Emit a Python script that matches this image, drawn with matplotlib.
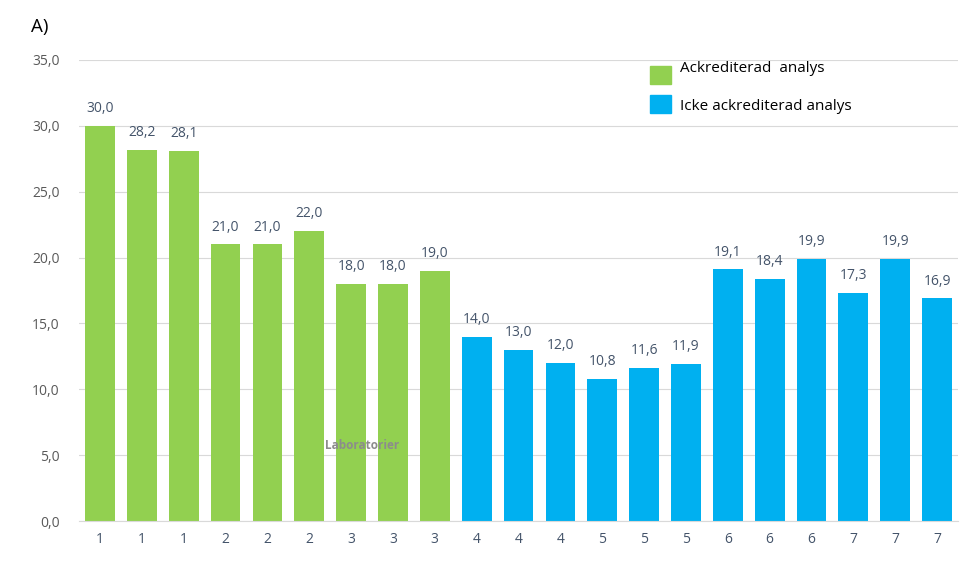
import matplotlib
matplotlib.use("Agg")
import matplotlib.pyplot as plt
from matplotlib.patches import Rectangle

plt.rcParams['font.family'] = ['Open Sans', 'DejaVu Sans']

labs = ['1', '1', '1', '2', '2', '2', '3', '3', '3', '4', '4', '4', '5', '5', '5', '6', '6', '6', '7', '7', '7']
values = [30.0, 28.2, 28.1, 21.0, 21.0, 22.0, 18.0, 18.0, 19.0,
          14.0, 13.0, 12.0, 10.8, 11.6, 11.9, 19.1, 18.4, 19.9, 17.3, 19.9, 16.9]
accredited = [True] * 9 + [False] * 12
yticks = [0, 5, 10, 15, 20, 25, 30, 35]

GREEN = '#92D050'
BLUE = '#00B0F0'

fig = plt.figure(figsize=(9.71, 5.68), dpi=100)
ax = fig.add_axes([0.0814, 0.0827, 0.9052, 0.8117])

x = list(range(len(values)))
colors = [GREEN if a else BLUE for a in accredited]
ax.bar(x, values, width=0.71, color=colors, zorder=2)
for xi, v in zip(x, values):
    ax.text(xi, v + 0.75, f"{v:.1f}".replace('.', ','), ha='center', va='bottom',
            fontsize=10, color='#44546A')

ax.set_xlim(-0.5, len(values) - 0.5)
ax.set_ylim(0, 35)
ax.set_yticks(yticks)
ax.set_yticklabels([f"{t:.1f}".replace('.', ',') for t in yticks], color='#595959', fontsize=10)
ax.set_xticks(x)
ax.set_xticklabels(labs, color='#44546A', fontsize=10)
ax.tick_params(length=0, pad=8)
ax.tick_params(axis='y', pad=14)
ax.grid(axis='y', color='#D9D9D9', linewidth=0.8, zorder=0)
for s in ['top', 'right', 'left']:
    ax.spines[s].set_visible(False)
ax.spines['bottom'].set_color('#D9D9D9')

ax.text(6.26, 5.7, 'Laboratorier', ha='center', va='center', fontsize=8.5,
        fontweight='bold', color='#8C8C8C', zorder=3)

fig.text(0.032, 0.952, 'A)', fontsize=13.5, color='black', ha='left', va='center')

# legend
fig.patches.append(Rectangle((650 / 971, 1 - 84 / 568), 21 / 971, 18 / 568,
                             transform=fig.transFigure, color=GREEN, figure=fig))
fig.patches.append(Rectangle((650 / 971, 1 - 113 / 568), 21 / 971, 18 / 568,
                             transform=fig.transFigure, color=BLUE, figure=fig))
fig.text(680 / 971, 1 - 69 / 568, 'Ackrediterad  analys', fontsize=11, color='black', va='center')
fig.text(680 / 971, 1 - 106 / 568, 'Icke ackrediterad analys', fontsize=11, color='black', va='center')

fig.savefig('out.png', dpi=100, facecolor='white')
